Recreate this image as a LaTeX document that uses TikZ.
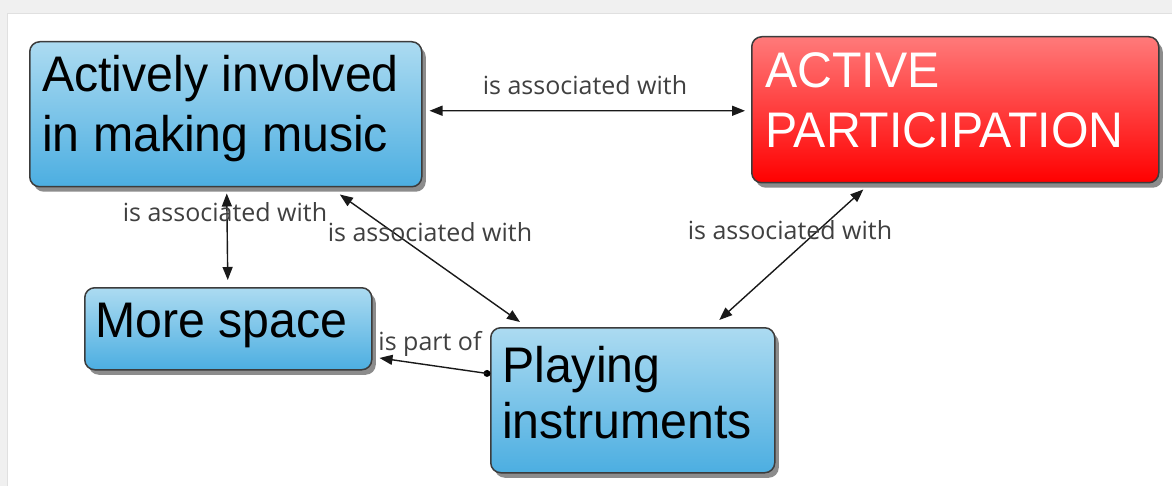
\documentclass[tikz,border=0pt]{standalone}
\usepackage{fontspec}
\newfontfamily\boxfont{Liberation Sans}[FakeStretch=0.965]
\newfontfamily\labfont{Open Sans}
\usetikzlibrary{arrows.meta,shadows,calc}
\definecolor{bluetop}{RGB}{172,219,241}
\definecolor{bluebot}{RGB}{76,174,225}
\definecolor{redtop}{RGB}{255,122,122}
\definecolor{redbot}{RGB}{255,0,0}
\definecolor{boxline}{RGB}{60,60,60}
\definecolor{labgray}{RGB}{64,64,64}
\definecolor{bggray}{RGB}{240,240,240}
\tikzset{
  conceptbox/.style={draw=boxline, line width=1.5pt, rounded corners=10pt,
    anchor=north west, inner sep=0pt,
    drop shadow={shadow xshift=4pt, shadow yshift=-5pt, fill=black, opacity=0.45}},
  bluebox/.style={conceptbox, top color=bluetop, bottom color=bluebot},
  redbox/.style={conceptbox, top color=redtop, bottom color=redbot},
  boxtext/.style={anchor=base west, inner sep=0pt, font=\boxfont\fontsize{50}{56}\selectfont},
  linklabel/.style={anchor=base, inner sep=0pt, text=labgray, font=\labfont\fontsize{25}{28}\selectfont},
  link/.style={line width=1.4pt, draw=black!90},
  tip/.style={-{Triangle[length=13pt,width=10pt]}},
  bothtips/.style={{Triangle[length=13pt,width=10pt]}-{Triangle[length=13pt,width=10pt]}}
}
\begin{document}
\begin{tikzpicture}[x=1pt,y=-1pt]
\useasboundingbox (0,0) rectangle (1172,486);
% background frame
\fill[bggray] (0,0) rectangle (1172,486);
\fill[white] (7,13) rectangle (1172,486);
\draw[black!12, line width=0.8pt] (7,486) -- (7,13) -- (1172,13);

% boxes
\node[bluebox, minimum width=392pt, minimum height=145pt] (b1) at (29,41) {};
\node[redbox, minimum width=407pt, minimum height=146pt] (red) at (751,36) {};
\node[bluebox, minimum width=287pt, minimum height=82pt] (ms) at (84,287) {};
\node[bluebox, minimum width=284pt, minimum height=145pt] (pl) at (490,327) {};

% box texts
\node[boxtext] (t1a) at (42,92) {Actively involved};
\node[boxtext] (t1b) at (42,152) {in making music};
\node[boxtext, text=white] (t2a) at (765,88) {ACTIVE};
\node[boxtext, text=white] (t2b) at (765,148) {PARTICIPATION};
\node[boxtext] (t3) at (95,337) {More space};
\node[boxtext] (t4a) at (502,382) {Playing};
\node[boxtext] (t4b) at (502,438) {instruments};

% connectors
\draw[link, bothtips]
  ($(b1.north east)!0.476!(b1.south east)+(7,0)$) --
  ($(red.north west)!0.507!(red.south west)+(-6,0)$);
\draw[link, bothtips]
  ($(b1.south)+(1,6)$) -- ($(ms.north)+(-0.5,-7)$);
\draw[link, bothtips]
  ($(b1.south west)!0.79!(b1.south east)+(0,7)$) --
  ($(pl.north west)!0.105!(pl.north east)+(0,-5)$);
\draw[link, bothtips]
  ($(red.south west)!0.275!(red.south east)+(0,6)$) --
  ($(pl.north west)!0.803!(pl.north east)+(0,-7)$);
\coordinate (dot) at ($(pl.north west)!0.317!(pl.south west)+(-3,0)$);
\fill[black] (dot) circle (3.5pt);
\draw[link, tip] (dot) -- ($(ms.north east)!0.85!(ms.south east)+(7,0)$);

% link labels
\node[linklabel] (l1) at (585,95) {is associated with};
\node[linklabel] (l2) at (225,222) {is associated with};
\node[linklabel] (l3) at (430,242) {is associated with};
\node[linklabel] (l4) at (790,240) {is associated with};
\node[linklabel] (l5) at (430,350) {is part of};
\end{tikzpicture}
\end{document}
